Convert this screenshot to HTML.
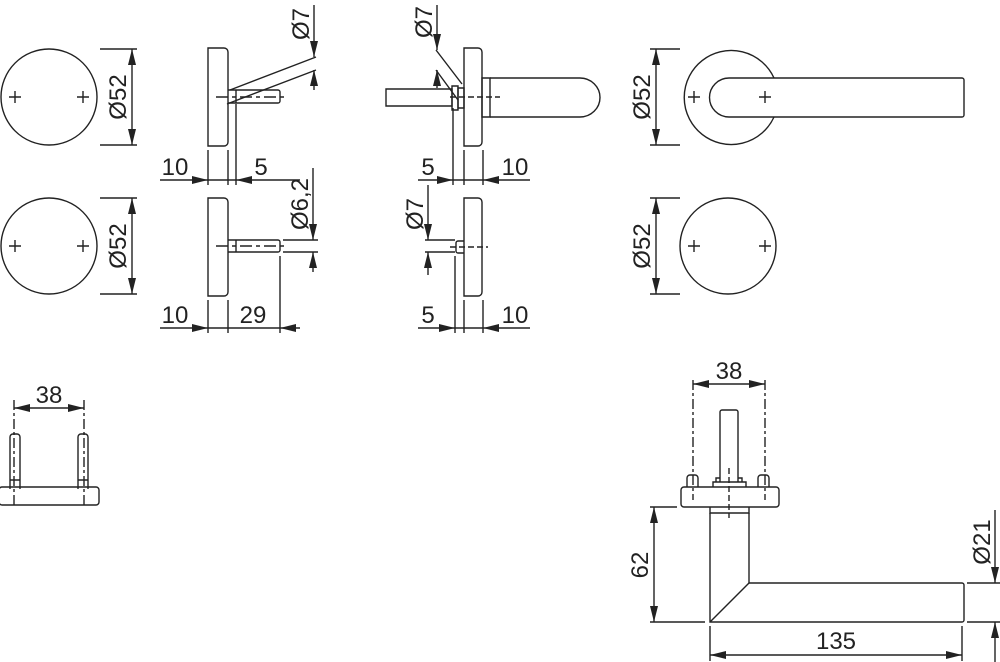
<!DOCTYPE html>
<html><head><meta charset="utf-8"><style>
html,body{margin:0;padding:0;background:#fff;}
svg{display:block}
text{font-family:"Liberation Sans",sans-serif;font-size:24px;fill:#222}
</style></head><body>
<svg width="1000" height="662" viewBox="0 0 1000 662" xmlns="http://www.w3.org/2000/svg">
<defs>
<marker id="a" viewBox="0 0 16 8" refX="16" refY="4" markerWidth="16" markerHeight="8" markerUnits="userSpaceOnUse" orient="auto"><path d="M0,0 L16,4 L0,8 z" fill="#222"/></marker>
</defs>
<g stroke="#222" stroke-width="1.4" fill="none">
<circle cx="49" cy="97" r="48"/>
<path d="M9,97h12M15,91v12M77,97h12M83,91v12"/>
<path d="M100,49h37M100,145h37"/>
<path d="M132,97V49" marker-end="url(#a)"/><path d="M132,97V145" marker-end="url(#a)"/>
<circle cx="49" cy="246" r="48"/>
<path d="M9,246h12M15,240v12M77,246h12M83,240v12"/>
<path d="M100,198h37M100,294h37"/>
<path d="M132,246V198" marker-end="url(#a)"/><path d="M132,246V294" marker-end="url(#a)"/>

<path d="M208,48h16a4,4 0 0 1 4,4v90a4,4 0 0 1 -4,4h-16z"/>
<path d="M228,90h50a2,2 0 0 1 2,2v9a2,2 0 0 1 -2,2h-50"/>
<path d="M236,90v13"/>
<path d="M216,97h70" stroke-dasharray="12,4,4,4"/>
<path d="M230,90L316,57M227,104L316,70"/>
<path d="M314,5V57" marker-end="url(#a)"/><path d="M314,90V70" marker-end="url(#a)"/>
<path d="M208,150v35M228,150v35M236,104v81"/>
<path d="M160,180H208" marker-end="url(#a)"/><path d="M300,180H236" marker-end="url(#a)"/>
<path d="M208,180h28"/>

<path d="M208,198h16a4,4 0 0 1 4,4v90a4,4 0 0 1 -4,4h-16z"/>
<path d="M228,240h50a2,2 0 0 1 2,2v8a2,2 0 0 1 -2,2h-50"/>
<path d="M236,240v12"/>
<path d="M216,246h70" stroke-dasharray="12,4,4,4"/>
<path d="M283,240h35M283,252h35"/>
<path d="M313,168V240" marker-end="url(#a)"/><path d="M313,272V252" marker-end="url(#a)"/>
<path d="M208,300v33M228,300v33M280,256v77"/>
<path d="M160,328H208" marker-end="url(#a)"/><path d="M300,328H280" marker-end="url(#a)"/>
<path d="M208,328h72"/>

<path d="M386,89h66v17h-66z"/>
<path d="M452,86h6v24h-6z"/>
<path d="M458,88h6v20h-6z"/>
<path d="M464,48h14a4,4 0 0 1 4,4v90a4,4 0 0 1 -4,4h-14z"/>
<path d="M482,78h8v39h-8z"/>
<path d="M490,78h90a20,19.5 0 0 1 0,39h-90"/>
<path d="M450,97h50" stroke-dasharray="6,3"/>
<path d="M436,50L462,84M436,70L458,100"/>
<path d="M437,5V50" marker-end="url(#a)"/><path d="M437,88V70" marker-end="url(#a)"/>
<path d="M453,108v77M464,150v35M483,150v35"/>
<path d="M418,180H453" marker-end="url(#a)"/><path d="M530,180H483" marker-end="url(#a)"/>
<path d="M453,180h30"/>

<path d="M464,198h14a4,4 0 0 1 4,4v90a4,4 0 0 1 -4,4h-14z"/>
<path d="M464,241h-6a2,2 0 0 0 -2,2v8a2,2 0 0 0 2,2h6"/>
<path d="M450,247h38" stroke-dasharray="6,3"/>
<path d="M425,240h30M425,252h30"/>
<path d="M428,185V240" marker-end="url(#a)"/><path d="M428,275V252" marker-end="url(#a)"/>
<path d="M455,256v77M464,300v33M483,300v33"/>
<path d="M418,328H455" marker-end="url(#a)"/><path d="M530,328H483" marker-end="url(#a)"/>
<path d="M455,328h28"/>

<path d="M774,78A47,47 0 1 0 774,117"/>
<path d="M962,78H729A19.5,19.5 0 0 0 729,117H962a2,2 0 0 0 2,-2v-35a2,2 0 0 0 -2,-2z"/>
<path d="M688,97h12M694,91v12M759,97h12M765,91v12"/>
<path d="M650,49h30M650,145h30"/>
<path d="M656,97V49" marker-end="url(#a)"/><path d="M656,97V145" marker-end="url(#a)"/>
<circle cx="728" cy="246" r="48"/>
<path d="M688,246h12M694,240v12M759,246h12M765,240v12"/>
<path d="M650,198h30M650,294h30"/>
<path d="M656,246V198" marker-end="url(#a)"/><path d="M656,246V294" marker-end="url(#a)"/>

<path d="M10,489V437a3,3 0 0 1 3,-3h4a3,3 0 0 1 3,3V489"/>
<path d="M78,489V437a3,3 0 0 1 3,-3h4a3,3 0 0 1 3,3V489"/>
<path d="M10,480h10M78,480h10"/>
<path d="M2,487h94a3,3 0 0 1 3,3v12a3,3 0 0 1 -3,3h-94a3,3 0 0 1 -3,-3v-12a3,3 0 0 1 3,-3z"/>
<path d="M14,400v105M84,400v105" stroke-dasharray="10,3,3,3"/>
<path d="M49,408H14" marker-end="url(#a)"/><path d="M49,408H84" marker-end="url(#a)"/>

<path d="M720,482V412a2,2 0 0 1 2,-2h14a2,2 0 0 1 2,2V482"/>
<path d="M713,487v-5h33v5"/>
<path d="M716,482v-4h4M742,482v-4h-4"/>
<path d="M687,487v-9a3,3 0 0 1 3,-3h5a3,3 0 0 1 3,3v9M758,487v-9a3,3 0 0 1 3,-3h5a3,3 0 0 1 3,3v9"/>
<path d="M684,487h92a3,3 0 0 1 3,3v14a3,3 0 0 1 -3,3h-92a3,3 0 0 1 -3,-3v-14a3,3 0 0 1 3,-3z"/>
<path d="M710,507v6h39v-6M710,513h39"/>
<path d="M710,513V622H962a2,2 0 0 0 2,-2V585a2,2 0 0 0 -2,-2H749V513"/>
<path d="M710,622L749,583"/>
<path d="M693,380v120M765,380v120" stroke-dasharray="10,3,3,3"/>
<path d="M729,468v50" stroke-dasharray="6,3"/>
<path d="M729,384H693" marker-end="url(#a)"/><path d="M729,384H765" marker-end="url(#a)"/>
<path d="M650,507h27M650,622h55"/>
<path d="M654,565V507" marker-end="url(#a)"/><path d="M654,565V622" marker-end="url(#a)"/>
<path d="M710,626v35M962,626v35"/>
<path d="M836,655H710" marker-end="url(#a)"/><path d="M836,655H962" marker-end="url(#a)"/>
<path d="M967,583h33M967,622h33"/>
<path d="M995,510V583" marker-end="url(#a)"/><path d="M995,662V622" marker-end="url(#a)"/>
</g>
<g>
<text transform="translate(126,97) rotate(-90)" text-anchor="middle">Ø52</text>
<text transform="translate(126,246) rotate(-90)" text-anchor="middle">Ø52</text>
<text transform="translate(650,97) rotate(-90)" text-anchor="middle">Ø52</text>
<text transform="translate(650,246) rotate(-90)" text-anchor="middle">Ø52</text>
<text transform="translate(309,24) rotate(-90)" text-anchor="middle">Ø7</text>
<text transform="translate(432,22) rotate(-90)" text-anchor="middle">Ø7</text>
<text transform="translate(308,204) rotate(-90)" text-anchor="middle">Ø6,2</text>
<text transform="translate(423,214) rotate(-90)" text-anchor="middle">Ø7</text>
<text transform="translate(648,565) rotate(-90)" text-anchor="middle">62</text>
<text transform="translate(990,542) rotate(-90)" text-anchor="middle">Ø21</text>
<text x="175" y="175" text-anchor="middle">10</text>
<text x="261" y="175" text-anchor="middle">5</text>
<text x="175" y="323" text-anchor="middle">10</text>
<text x="253" y="323" text-anchor="middle">29</text>
<text x="428" y="175" text-anchor="middle">5</text>
<text x="515" y="175" text-anchor="middle">10</text>
<text x="428" y="323" text-anchor="middle">5</text>
<text x="515" y="323" text-anchor="middle">10</text>
<text x="49" y="403" text-anchor="middle">38</text>
<text x="729" y="379" text-anchor="middle">38</text>
<text x="836" y="649" text-anchor="middle">135</text>
</g>
</svg>
</body></html>
